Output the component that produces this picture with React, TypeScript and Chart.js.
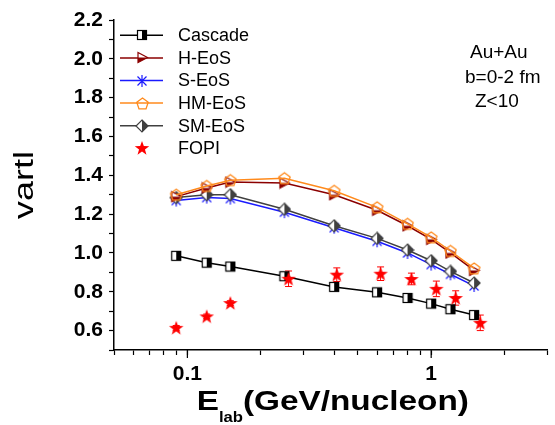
import React, { useEffect, useRef } from 'react';
import { Chart, registerables } from 'chart.js';

Chart.register(...registerables);

const FONT = '"Liberation Sans", Arial, Helvetica, sans-serif';

// ---- data ----
const energies = [0.09, 0.12, 0.15, 0.25, 0.4, 0.6, 0.8, 1.0, 1.2, 1.5];
const cascade = [0.985, 0.95, 0.93, 0.88, 0.825, 0.797, 0.768, 0.739, 0.71, 0.68];
const hEoS = [1.29, 1.335, 1.365, 1.36, 1.3, 1.22, 1.14, 1.07, 1.0, 0.91];
const sEoS = [1.27, 1.285, 1.28, 1.21, 1.13, 1.06, 1.0, 0.94, 0.89, 0.83];
const hmEoS = [1.3, 1.345, 1.375, 1.385, 1.32, 1.235, 1.15, 1.08, 1.01, 0.92];
const smEoS = [1.285, 1.3, 1.3, 1.225, 1.14, 1.075, 1.015, 0.96, 0.905, 0.845];
const fopiEnergies = [0.09, 0.12, 0.15, 0.26, 0.41, 0.62, 0.83, 1.05, 1.26, 1.59];
const fopi = [0.614, 0.673, 0.742, 0.867, 0.888, 0.893, 0.866, 0.815, 0.768, 0.64];
const fopiErr = [0.012, 0.012, 0.012, 0.04, 0.035, 0.035, 0.03, 0.04, 0.037, 0.04];

const xTickValues = [0.05, 0.06, 0.07, 0.08, 0.09, 0.1, 0.2, 0.3, 0.4, 0.5, 0.6, 0.7, 0.8, 0.9, 1, 2, 3];
const xTickLabels = ['0.1', '1'];
const yTickValues = [0.5, 0.6, 0.7, 0.8, 0.9, 1.0, 1.1, 1.2, 1.3, 1.4, 1.5, 1.6, 1.7, 1.8, 1.9, 2.0, 2.1, 2.2];
const yTickLabels = ['0.6', '0.8', '1.0', '1.2', '1.4', '1.6', '1.8', '2.0', '2.2'];

const seriesNames = ['Cascade', 'H-EoS', 'S-EoS', 'HM-EoS', 'SM-EoS', 'FOPI'];
const infoLines = ['Au+Au', 'b=0-2 fm', 'Z<10'];
const yTitle = 'vartl';
const xTitleMain = 'E';
const xTitleSub = 'lab';
const xTitleRest = '(GeV/nucleon)';

// ---- marker images ----
function mk(size: number, draw: (c: CanvasRenderingContext2D) => void) {
  const c = document.createElement('canvas');
  c.width = size;
  c.height = size;
  const ctx = c.getContext('2d')!;
  draw(ctx);
  return c;
}

function makeMarkers() {
  const cascadeM = mk(12, (c) => {
    c.fillStyle = '#fff';
    c.fillRect(1, 1, 10, 10);
    c.fillStyle = '#000';
    c.fillRect(6, 1, 5, 10);
    c.strokeStyle = '#000';
    c.lineWidth = 1.2;
    c.strokeRect(1.5, 1.5, 9, 9);
  });
  const triM = mk(13, (c) => {
    const path = () => {
      c.beginPath();
      c.moveTo(2, 1.5);
      c.lineTo(11.5, 6.5);
      c.lineTo(2, 11.5);
      c.closePath();
    };
    path();
    c.fillStyle = '#fff';
    c.fill();
    c.save();
    c.beginPath();
    c.rect(0, 6.5, 13, 7);
    c.clip();
    path();
    c.fillStyle = '#8b0000';
    c.fill();
    c.restore();
    path();
    c.strokeStyle = '#8b0000';
    c.lineWidth = 1.2;
    c.stroke();
  });
  const astM = mk(14, (c) => {
    c.strokeStyle = '#1a1aff';
    c.lineWidth = 1.2;
    c.beginPath();
    c.moveTo(7, 1);
    c.lineTo(7, 13);
    c.moveTo(2.5, 2.5);
    c.lineTo(11.5, 11.5);
    c.moveTo(11.5, 2.5);
    c.lineTo(2.5, 11.5);
    c.stroke();
  });
  const pentM = mk(15, (c) => {
    c.strokeStyle = '#ff8a1c';
    c.lineWidth = 1.3;
    c.beginPath();
    for (let k = 0; k < 5; k++) {
      const a = -Math.PI / 2 + (k * 2 * Math.PI) / 5;
      const px = 7.5 + 6 * Math.cos(a);
      const py = 8 + 6 * Math.sin(a);
      if (k === 0) c.moveTo(px, py);
      else c.lineTo(px, py);
    }
    c.closePath();
    c.stroke();
  });
  const diaM = mk(14, (c) => {
    const path = () => {
      c.beginPath();
      c.moveTo(7, 1);
      c.lineTo(13, 7);
      c.lineTo(7, 13);
      c.lineTo(1, 7);
      c.closePath();
    };
    path();
    c.fillStyle = '#fff';
    c.fill();
    c.save();
    c.beginPath();
    c.rect(7, 0, 7, 14);
    c.clip();
    path();
    c.fillStyle = '#404040';
    c.fill();
    c.restore();
    path();
    c.strokeStyle = '#404040';
    c.lineWidth = 1.2;
    c.stroke();
  });
  const starM = mk(16, (c) => {
    c.fillStyle = '#ff0000';
    c.beginPath();
    for (let k = 0; k < 10; k++) {
      const r = k % 2 === 0 ? 7.6 : 3.1;
      const a = -Math.PI / 2 + (k * Math.PI) / 5;
      const px = 8 + r * Math.cos(a);
      const py = 8.5 + r * Math.sin(a);
      if (k === 0) c.moveTo(px, py);
      else c.lineTo(px, py);
    }
    c.closePath();
    c.fill();
  });
  return [cascadeM, triM, astM, pentM, diaM, starM];
}

export default function App() {
  const ref = useRef<HTMLCanvasElement>(null);

  useEffect(() => {
    const canvas = ref.current!;
    const markers = makeMarkers();
    const pts = (xs: number[], ys: number[]) => xs.map((x, i) => ({ x, y: ys[i] }));
    const seriesData = [
      pts(energies, cascade),
      pts(energies, hEoS),
      pts(energies, sEoS),
      pts(energies, hmEoS),
      pts(energies, smEoS),
      pts(fopiEnergies, fopi),
    ];
    const colors = ['#000000', '#8b0000', '#1a1aff', '#ff8a1c', '#404040', '#ff0000'];
    const orders = [5, 2, 4, 1, 3, 0];
    const showLines = [true, true, true, true, true, false];

    const datasets = seriesNames.map((name, i) => ({
      label: name,
      data: seriesData[i],
      showLine: showLines[i],
      borderColor: colors[i],
      backgroundColor: colors[i],
      borderWidth: 1.5,
      pointStyle: markers[i] as any,
      pointRadius: 6,
      pointHoverRadius: 6,
      order: orders[i],
      tension: 0,
    }));

    const decor = {
      id: 'decor',
      beforeDatasetsDraw(chart: any) {
        const { ctx } = chart;
        const xs = chart.scales.x;
        const ys = chart.scales.y;
        ctx.save();
        ctx.strokeStyle = '#ff0000';
        ctx.lineWidth = 1;
        fopiEnergies.forEach((e, i) => {
          const px = xs.getPixelForValue(e);
          const y1 = ys.getPixelForValue(fopi[i] + fopiErr[i]);
          const y2 = ys.getPixelForValue(fopi[i] - fopiErr[i]);
          ctx.beginPath();
          ctx.moveTo(px, y1);
          ctx.lineTo(px, y2);
          ctx.moveTo(px - 3.5, y1);
          ctx.lineTo(px + 3.5, y1);
          ctx.moveTo(px - 3.5, y2);
          ctx.lineTo(px + 3.5, y2);
          ctx.stroke();
        });
        ctx.restore();
      },
      afterDraw(chart: any) {
        const { ctx, chartArea: a } = chart;
        const xs = chart.scales.x;
        ctx.save();
        // longer major ticks on the x axis
        ctx.strokeStyle = '#000';
        ctx.lineWidth = 1.2;
        xTickLabels.forEach((t) => {
          const px = xs.getPixelForValue(Number(t));
          ctx.beginPath();
          ctx.moveTo(px, a.bottom);
          ctx.lineTo(px, a.bottom + 8);
          ctx.stroke();
        });
        // legend
        chart.data.datasets.forEach((ds: any, i: number) => {
          const y = a.top + 15.3 + i * 22.6;
          if (ds.showLine) {
            ctx.strokeStyle = ds.borderColor;
            ctx.lineWidth = 1.5;
            ctx.beginPath();
            ctx.moveTo(a.left + 6, y);
            ctx.lineTo(a.left + 49, y);
            ctx.stroke();
          }
          const m = ds.pointStyle;
          ctx.drawImage(m, Math.round(a.left + 28 - m.width / 2), Math.round(y - m.height / 2));
          ctx.fillStyle = '#000';
          ctx.font = `18px ${FONT}`;
          ctx.textAlign = 'left';
          ctx.textBaseline = 'middle';
          ctx.fillText(ds.label, a.left + 64, y + 1);
        });
        // info text
        ctx.font = `19px ${FONT}`;
        ctx.textBaseline = 'alphabetic';
        const infoX = [470, 465, 475];
        infoLines.forEach((t, i) => {
          ctx.fillText(t, infoX[i], a.top + 38 + i * 24.5);
        });
        // y title
        ctx.save();
        ctx.translate(26, (a.top + a.bottom) / 2);
        ctx.rotate(-Math.PI / 2);
        ctx.scale(1.33, 1);
        ctx.font = `27px ${FONT}`;
        ctx.textAlign = 'center';
        ctx.textBaseline = 'middle';
        ctx.fillText(yTitle, 0, 0);
        ctx.restore();
        // x title
        ctx.save();
        const big = `bold 28px ${FONT}`;
        const small = `bold 14px ${FONT}`;
        ctx.font = big;
        const wE = ctx.measureText(xTitleMain).width;
        const wR = ctx.measureText(xTitleRest).width;
        ctx.font = small;
        const wS = ctx.measureText(xTitleSub).width;
        const total = wE + wS + wR;
        const sx = 1.19;
        ctx.translate((a.left + a.right) / 2 + 2, 410);
        ctx.scale(sx, 1);
        ctx.textAlign = 'left';
        ctx.textBaseline = 'alphabetic';
        let x0 = -total / 2;
        ctx.font = big;
        ctx.fillText(xTitleMain, x0, 0);
        x0 += wE;
        ctx.font = small;
        ctx.fillText(xTitleSub, x0, 12);
        x0 += wS;
        ctx.font = big;
        ctx.fillText(xTitleRest, x0, 0);
        ctx.restore();
        ctx.restore();
      },
    };

    const tickFont = { family: FONT, size: 21, weight: 'bold' as const };

    const chart = new Chart(canvas, {
      type: 'scatter',
      data: { datasets: datasets as any },
      options: {
        animation: false,
        responsive: false,
        maintainAspectRatio: false,
        layout: { padding: { top: 20, left: 0, right: 0, bottom: 0 } },
        plugins: {
          legend: { display: false },
          tooltip: { enabled: false },
        },
        scales: {
          x: {
            type: 'logarithmic',
            min: 0.05,
            max: 3,
            afterBuildTicks: (s: any) => {
              s.ticks = xTickValues.map((v) => ({ value: v }));
            },
            afterFit: (s: any) => {
              s.height = 75;
            },
            ticks: {
              autoSkip: false,
              maxRotation: 0,
              minRotation: 0,
              padding: 7,
              color: '#000',
              font: tickFont,
              callback: (v: any) => (xTickLabels.includes(String(v)) ? String(v) : ''),
            },
            grid: {
              drawOnChartArea: false,
              drawTicks: true,
              tickLength: 5,
              tickColor: '#000',
              tickWidth: 1.2,
            },
            border: { color: '#000', width: 1.5 },
          },
          y: {
            type: 'linear',
            min: 0.5,
            max: 2.2,
            afterBuildTicks: (s: any) => {
              s.ticks = yTickValues.map((v) => ({ value: v }));
            },
            afterFit: (s: any) => {
              s.width = 114;
            },
            ticks: {
              autoSkip: false,
              padding: 6,
              color: '#000',
              font: tickFont,
              callback: (v: any) => {
                const t = Number(v).toFixed(1);
                return yTickLabels.includes(t) ? t : '';
              },
            },
            grid: {
              drawOnChartArea: false,
              drawTicks: true,
              tickLength: 5,
              tickColor: '#000',
              tickWidth: 1.2,
            },
            border: { color: '#000', width: 1.5 },
          },
        },
      },
      plugins: [decor],
    });

    return () => chart.destroy();
  }, []);

  return (
    <div style={{ position: 'absolute', left: 0, top: 0, width: 555, height: 425, background: '#fff' }}>
      <canvas ref={ref} width={555} height={425} style={{ display: 'block', width: 555, height: 425 }} />
    </div>
  );
}
